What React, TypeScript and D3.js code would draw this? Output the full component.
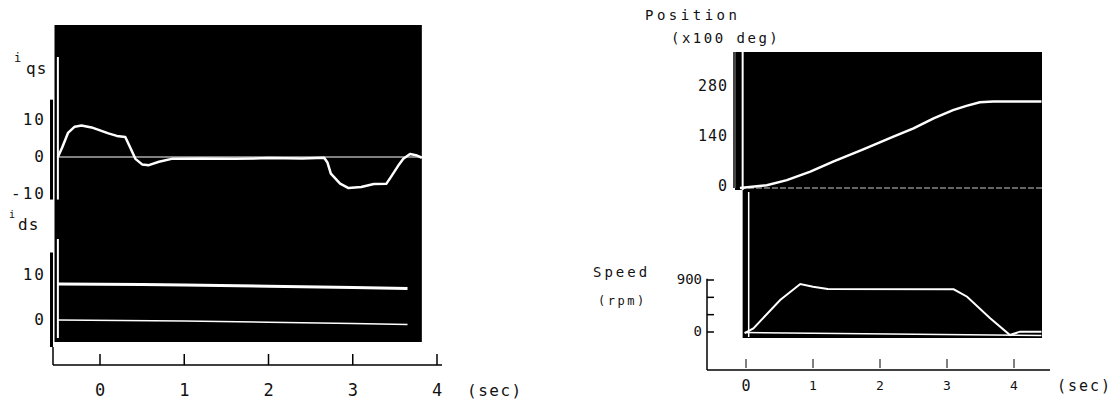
import * as d3 from 'd3';

// ---- data ----
// i_qs (A) vs time (sec)
const iqsT = [-0.5, -0.45, -0.38, -0.3, -0.22, -0.1, 0.0, 0.1, 0.2, 0.3, 0.36, 0.42, 0.5, 0.58, 0.7, 0.85, 1.2, 1.6, 2.0, 2.4, 2.66, 2.7, 2.74, 2.85, 2.95, 3.1, 3.25, 3.4, 3.45, 3.55, 3.6, 3.68, 3.75, 3.82];
const iqsV = [0, 2.5, 6.5, 8.2, 8.5, 8.0, 7.2, 6.4, 5.7, 5.4, 2.5, -0.5, -2.0, -2.2, -1.3, -0.5, -0.4, -0.5, -0.3, -0.4, -0.2, -1.5, -4.5, -7.2, -8.4, -8.1, -7.3, -7.2, -5.5, -2.0, -0.5, 0.8, 0.5, -0.2];
const iqsZeroT = [-0.5, 3.85];
const iqsZeroV = [0, 0];

// i_ds (A)
const idsT = [-0.5, 0.5, 1.0, 2.0, 3.0, 3.65];
const idsV = [8.0, 7.9, 7.8, 7.5, 7.2, 7.0];
const idsRefT = [-0.5, 1.0, 2.0, 3.0, 3.65];
const idsRefV = [0.0, -0.2, -0.5, -0.8, -1.0];

// Position (x100 deg)
const posT = [-0.09, 0.31, 0.61, 0.96, 1.3, 1.75, 2.2, 2.5, 2.8, 3.09, 3.29, 3.49, 3.69, 4.41];
const posV = [0, 8, 22, 46, 74, 108, 144, 167, 195, 218, 230, 240, 242, 242];

// Speed (rpm)
const spdT = [-0.02, 0.11, 0.51, 0.81, 1.0, 1.22, 3.1, 3.3, 3.64, 3.94, 4.09, 4.41];
const spdV = [-20, 63, 554, 831, 785, 744, 739, 611, 242, -52, 6, 6];
const spdZeroT = [-0.02, 4.41];
const spdZeroV = [-10, -60];

const xTicks = [0, 1, 2, 3, 4];
const iqsTicks = [10, 0, -10];
const idsTicks = [10, 0];
const posTicks = [280, 140, 0];
const spdTicks = [900, 0];
const spdMinor = [0, 300, 600, 900];

const font = '"DejaVu Sans Mono", monospace';

function pts(t: number[], v: number[]) {
    return t.map((d, i) => [d, v[i]] as [number, number]);
}

export default function App() {
    // left panel scales
    const xL = d3.scaleLinear().domain([0, 4]).range([100, 437]);
    const yQ = d3.scaleLinear().domain([-10, 10]).range([194, 120]);
    const yD = d3.scaleLinear().domain([0, 10]).range([320, 275]);
    // right panel scales
    const xR = d3.scaleLinear().domain([0, 4]).range([746, 1014]);
    const yP = d3.scaleLinear().domain([0, 280]).range([188, 88]);
    const yS = d3.scaleLinear().domain([0, 900]).range([332, 280]);

    const lineQ = d3.line<[number, number]>().x(d => xL(d[0])).y(d => yQ(d[1]));
    const lineD = d3.line<[number, number]>().x(d => xL(d[0])).y(d => yD(d[1]));
    const lineP = d3.line<[number, number]>().x(d => xR(d[0])).y(d => yP(d[1]));
    const lineS = d3.line<[number, number]>().x(d => xR(d[0])).y(d => yS(d[1]));

    const txt = { fontFamily: font, fill: '#111' };

    return (
        <svg width={1114} height={403} style={{ position: 'absolute', left: 0, top: 0, background: '#fff' }}>
            {/* ---------------- left: i_qs / i_ds ---------------- */}
            <rect x={xL(-0.54)} y={25} width={xL(3.82) - xL(-0.54)} height={317} fill="#000" />
            {/* left bracket bars */}
            <rect x={50} y={yQ(15.5)} width={3} height={yQ(-11.5) - yQ(15.5)} fill="#000" />
            <rect x={50} y={yD(15)} width={3} height={yD(-6) - yD(15)} fill="#000" />
            {/* trace start lines */}
            <line x1={xL(-0.5)} x2={xL(-0.5)} y1={57} y2={yQ(-11.5)} stroke="#fff" strokeWidth={2} />
            <line x1={xL(-0.5)} x2={xL(-0.5)} y1={yD(18)} y2={yD(-4)} stroke="#fff" strokeWidth={2} />
            <path d={lineQ(pts(iqsZeroT, iqsZeroV)) || ''} stroke="#fff" strokeWidth={1} fill="none" />
            <path d={lineQ(pts(iqsT, iqsV)) || ''} stroke="#fff" strokeWidth={2.5} fill="none" strokeLinejoin="round" />
            <path d={lineD(pts(idsT, idsV)) || ''} stroke="#fff" strokeWidth={3} fill="none" />
            <path d={lineD(pts(idsRefT, idsRefV)) || ''} stroke="#fff" strokeWidth={1.5} fill="none" />

            {/* left x axis */}
            <line x1={53} x2={53} y1={yD(-6)} y2={365} stroke="#000" strokeWidth={1.5} />
            <line x1={53} x2={442} y1={365} y2={365} stroke="#000" strokeWidth={1.5} />
            {xTicks.map(t => (
                <g key={'xl' + t}>
                    <line x1={xL(t)} x2={xL(t)} y1={354} y2={365} stroke="#000" strokeWidth={1.5} />
                    <text x={xL(t)} y={391} textAnchor="middle" dominantBaseline="middle" fontSize={17} {...txt}>{t}</text>
                </g>
            ))}
            <text x={467} y={391} dominantBaseline="middle" fontSize={16} letterSpacing={1.5} {...txt}>(sec)</text>

            {/* left y labels */}
            <text x={14} y={62} fontSize={12} {...txt}>i</text>
            <text x={26} y={74} fontSize={16} letterSpacing={1} {...txt}>qs</text>
            {iqsTicks.map(v => (
                <text key={'q' + v} x={46} y={yQ(v)} textAnchor="end" dominantBaseline="middle" fontSize={16} letterSpacing={2} {...txt}>{v}</text>
            ))}
            <text x={9} y={218} fontSize={10} {...txt}>i</text>
            <text x={18} y={230} fontSize={16} letterSpacing={1} {...txt}>ds</text>
            {idsTicks.map(v => (
                <text key={'d' + v} x={46} y={yD(v)} textAnchor="end" dominantBaseline="middle" fontSize={16} letterSpacing={2} {...txt}>{v}</text>
            ))}

            {/* ---------------- right: position / speed ---------------- */}
            <rect x={735} y={52} width={1042 - 735} height={138} fill="#000" />
            <rect x={xR(-0.05)} y={186} width={1042 - xR(-0.05)} height={152} fill="#000" />
            <rect x={733} y={52} width={3} height={136} fill="#444" />
            <line x1={xR(-0.05)} x2={xR(-0.05)} y1={52} y2={190} stroke="#fff" strokeWidth={2} />
            <line x1={xR(0.04)} x2={xR(0.04)} y1={192} y2={337} stroke="#fff" strokeWidth={1.5} />
            <line x1={xR(-0.09)} x2={1042} y1={yP(0)} y2={yP(0)} stroke="#fff" strokeWidth={1} strokeDasharray="6 2" opacity={0.8} />
            <path d={lineP(pts(posT, posV)) || ''} stroke="#fff" strokeWidth={2.5} fill="none" />
            <path d={lineS(pts(spdZeroT, spdZeroV)) || ''} stroke="#fff" strokeWidth={1.5} fill="none" />
            <path d={lineS(pts(spdT, spdV)) || ''} stroke="#fff" strokeWidth={2} fill="none" />

            {/* right axes */}
            <line x1={707} x2={707} y1={yS(920)} y2={370} stroke="#000" strokeWidth={1.5} />
            <line x1={707} x2={1050} y1={370} y2={370} stroke="#000" strokeWidth={1.5} />
            {spdMinor.map(v => (
                <line key={'sm' + v} x1={707} x2={714} y1={yS(v)} y2={yS(v)} stroke="#000" strokeWidth={1.5} />
            ))}
            {xTicks.map(t => (
                <g key={'xr' + t}>
                    <line x1={xR(t)} x2={xR(t)} y1={359} y2={368} stroke="#000" strokeWidth={1} />
                    <text x={xR(t)} y={386} textAnchor="middle" dominantBaseline="middle" fontSize={t === 0 ? 15 : 13} {...txt}>{t}</text>
                </g>
            ))}
            <text x={1057} y={386} dominantBaseline="middle" fontSize={15} letterSpacing={2} {...txt}>(sec)</text>

            <text x={645} y={20} fontSize={14} letterSpacing={3.5} {...txt}>Position</text>
            <text x={671} y={43} fontSize={14} letterSpacing={2.5} {...txt}>(x100 deg)</text>
            {posTicks.map(v => (
                <text key={'p' + v} x={728} y={yP(v) - 2} textAnchor="end" dominantBaseline="middle" fontSize={15} letterSpacing={1} {...txt}>{v}</text>
            ))}
            <text x={593} y={273} dominantBaseline="middle" fontSize={14} letterSpacing={3} {...txt}>Speed</text>
            <text x={598} y={301} dominantBaseline="middle" fontSize={12} letterSpacing={2.5} {...txt}>(rpm)</text>
            {spdTicks.map(v => (
                <text key={'s' + v} x={702} y={yS(v)} textAnchor="end" dominantBaseline="middle" fontSize={14} {...txt}>{v}</text>
            ))}
        </svg>
    );
}
